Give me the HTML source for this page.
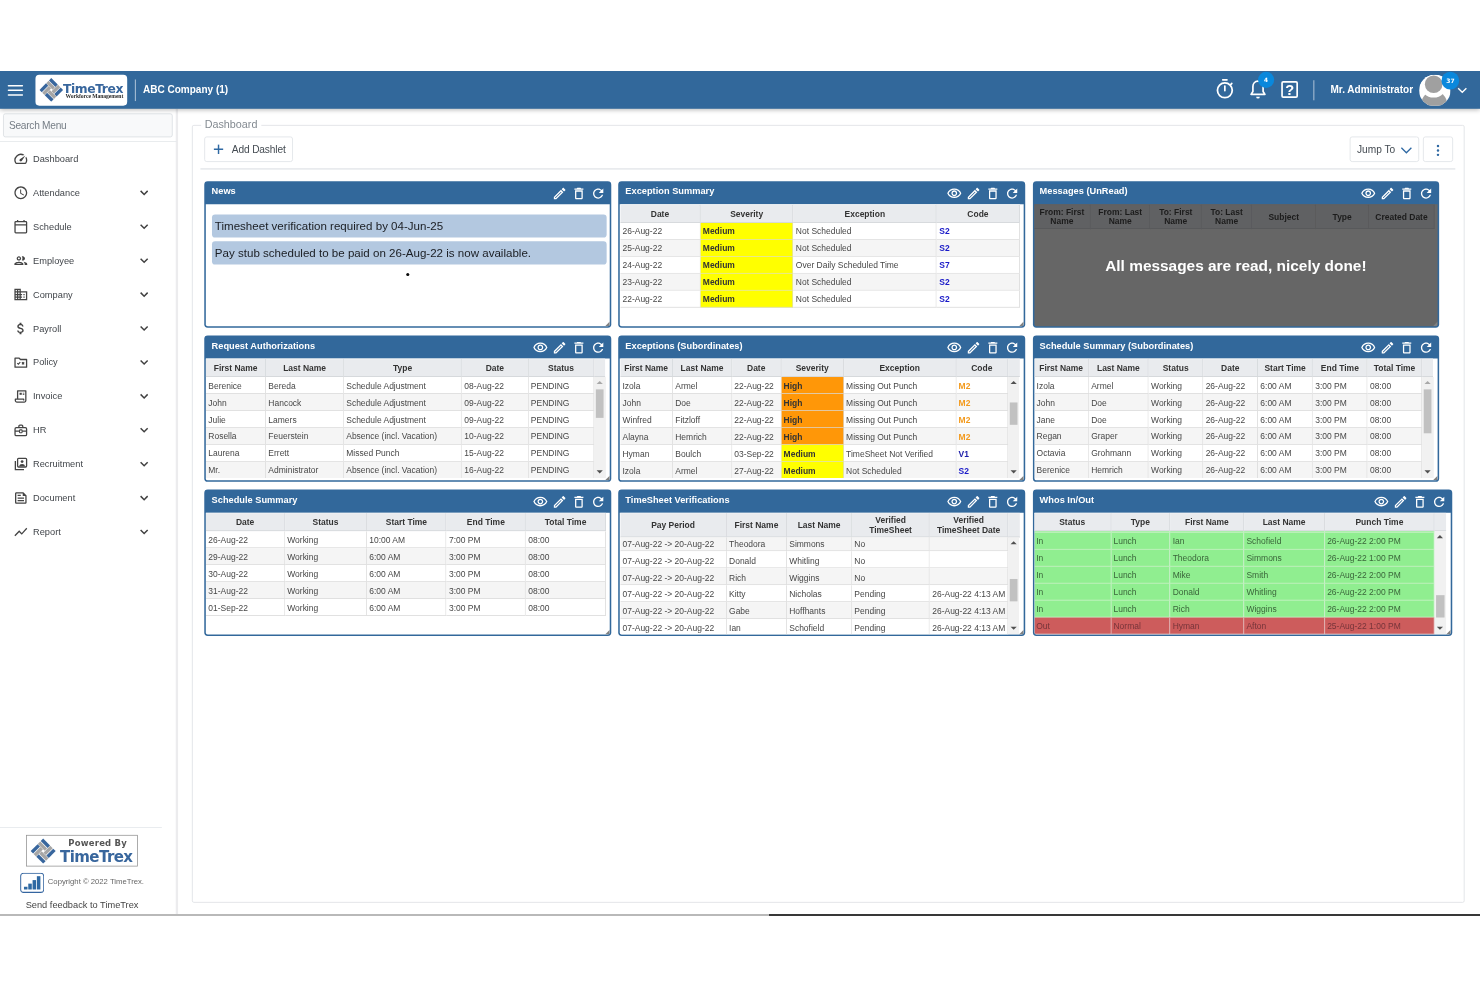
<!DOCTYPE html>
<html lang="en"><head><meta charset="utf-8"><title>TimeTrex Dashboard</title>
<style>
html,body{margin:0;padding:0;background:#fff;}
body{width:1480px;height:987px;overflow:hidden;position:relative;font-family:"Liberation Sans",sans-serif;}
#app{position:absolute;left:0;top:71px;width:1920px;height:1094px;transform:scale(0.7708333);transform-origin:0 0;overflow:hidden;background:#fff;color:#333;font-size:12px;}
#app *{box-sizing:border-box;}
.abs{position:absolute;}
.bline1{position:absolute;left:0;top:913.9px;width:769px;height:2px;background:#b9b9b9;}
.bline2{position:absolute;left:769px;top:913.9px;width:711px;height:2.1px;background:#383838;}
/* header */
#hdr{position:absolute;left:0;top:0;width:1920px;height:49.3px;background:#32689b;box-shadow:0 2px 6px rgba(0,0,0,.28);z-index:5;}
#hdr .bar{position:absolute;left:10px;width:20px;height:2px;background:#fff;border-radius:1px;}
#logo{position:absolute;left:46.2px;top:5.2px;width:119.2px;height:39.6px;background:#fff;border-radius:5px;}
#hdr .vdiv{position:absolute;width:1.8px;background:#d3deea;}
#hdr .co{position:absolute;left:185.5px;top:0;height:49px;line-height:49px;color:#fff;font-weight:bold;font-size:13px;white-space:nowrap;}
#hdr .user{position:absolute;left:1726px;top:0;height:49px;line-height:49px;color:#fff;font-weight:bold;font-size:13px;white-space:nowrap;}
.badge{position:absolute;border-radius:50%;background:#0a88dc;color:#fff;font-weight:bold;text-align:center;font-family:"DejaVu Sans","Liberation Sans",sans-serif;}
/* sidebar */
#side{position:absolute;left:0;top:49px;width:230.6px;height:1045px;background:#fff;border-right:3px solid #ececee;}
#search{position:absolute;left:4px;top:5.5px;width:219.6px;height:31.2px;border:1px solid #d8dce0;border-radius:3px;background:#f8f9fa;color:#757d85;font-size:13.2px;line-height:29px;padding-left:6.6px;letter-spacing:-0.35px;}
.sline{position:absolute;left:0;height:1px;background:#e3e7ea;}
.mi{position:absolute;left:0;width:228px;height:44px;}
.mi svg.ic{position:absolute;left:16.6px;top:11.8px;}
.mi .lb{position:absolute;left:42.8px;top:0px;line-height:44px;font-size:12px;color:#41454a;white-space:nowrap;letter-spacing:0.02px;}
.mi svg.cv{position:absolute;left:177px;top:12px;}
/* main */
#fs{position:absolute;left:248.6px;top:69.6px;width:1651.4px;height:1009.6px;border:1.2px solid #dcdfe2;border-radius:2.5px;}
#lg{position:absolute;left:261px;top:56.6px;padding:0 4.5px;background:#fff;font-size:14px;line-height:24px;color:#838a91;white-space:nowrap;}
.btn{position:absolute;border:1px solid #dde1e5;border-radius:3.2px;background:#fff;color:#444b52;font-size:13.2px;white-space:nowrap;letter-spacing:-0.2px;}
.hr{position:absolute;height:1.5px;background:#e6e9ec;}
/* dashlets */
.dl{position:absolute;border-radius:4.5px;background:#32689b;overflow:hidden;}
.dl .hd{position:absolute;left:0;top:0;right:0;height:30px;}
.dl .tt{position:absolute;left:9.2px;top:0.2px;line-height:27px;color:#fff;font-weight:bold;font-size:12px;white-space:nowrap;}
.dl .hd svg{position:absolute;top:6.4px;}
.dl .bd{position:absolute;left:2.1px;top:30px;right:2.1px;bottom:2.1px;overflow:hidden;background:#fff;border-radius:0 0 2.5px 2.5px;}
.rz{position:absolute;right:0;bottom:0;width:0;height:0;border-style:solid;border-width:0 0 6.5px 6.5px;border-color:transparent transparent #808080 transparent;}
table.g{border-collapse:separate;border-spacing:0;table-layout:fixed;position:absolute;left:0;font-size:11px;}
table.g th{height:24px;background:#e9ebee;border-right:1px solid #d4d7da;border-bottom:1px solid #d0d3d6;border-top:1px solid #f3f4f6;font-weight:bold;color:#333;text-align:center;padding:1.4px 2px 0 2px;line-height:12px;white-space:normal;overflow:hidden;vertical-align:middle;}
table.g td{height:22px;border-right:1px solid #dadada;border-bottom:1px solid #d9d9d9;color:#474747;padding:2.5px 2px 0 3px;white-space:nowrap;overflow:hidden;line-height:18.5px;vertical-align:top;}
table.g tr.a td{background:#f5f5f5;}
table.g tr.b td{background:#fff;}
.sb{position:absolute;width:14.6px;background:#f1f1f1;}
.sb .th{position:absolute;left:1.7px;width:10.6px;background:#c1c1c1;}
.sb .up{position:absolute;left:2.9px;top:5.5px;width:0;height:0;border-style:solid;border-width:0 4px 4px 4px;border-color:transparent transparent #505050 transparent;}
.sb .dn{position:absolute;left:2.9px;bottom:5.5px;width:0;height:0;border-style:solid;border-width:4px 4px 0 4px;border-color:#505050 transparent transparent transparent;}

</style></head>
<body>
<div id="app">
<div id="hdr">
<div class="bar" style="top:18px"></div>
<div class="bar" style="top:24px"></div>
<div class="bar" style="top:30px"></div>
<div id="logo">
<svg class="abs" style="left:4.4px;top:3.9px" width="31" height="31" viewBox="-15.5 -15.5 31 31"><g transform="rotate(45) scale(1.03)">
<rect x="-10.5" y="-10.5" width="11.6" height="4.1" fill="#38669d"/><rect x="-10.5" y="-5.6" width="11.6" height="4.1" fill="#a6a6a6"/>
<rect x="1.5" y="-10.5" width="4.1" height="11.6" fill="#a6a6a6"/><rect x="6.4" y="-10.5" width="4.1" height="11.6" fill="#38669d"/>
<rect x="-1.1" y="1.5" width="11.6" height="4.1" fill="#a6a6a6"/><rect x="-1.1" y="6.4" width="11.6" height="4.1" fill="#38669d"/>
<rect x="-10.5" y="-1.1" width="4.1" height="11.6" fill="#38669d"/><rect x="-5.6" y="-1.1" width="4.1" height="11.6" fill="#a6a6a6"/>
</g></svg>
<div class="abs" style="left:35.4px;top:7.6px;font-family:'DejaVu Sans','Liberation Sans',sans-serif;font-weight:bold;font-size:16px;line-height:20px;color:#38669d;letter-spacing:-0.5px;white-space:nowrap">TimeTrex</div>
<div class="abs" style="left:38.8px;top:22.6px;font-family:'Liberation Serif',serif;font-weight:bold;font-size:7.3px;line-height:9px;color:#2b2b2b;letter-spacing:-0.07px;white-space:nowrap">Workforce Management</div>
</div>
<div class="vdiv" style="left:174.500px;top:10.500px;height:28.500px"></div>
<div class="co">ABC Company (1)</div>
<svg class="abs" style="left:1576px;top:9px" width="26" height="28" viewBox="0 0 26 28">
<circle cx="13" cy="16" r="9.600" fill="none" stroke="#fff" stroke-width="2.300"/><rect x="9.200" y="1.300" width="7.600" height="2.400" rx="1" fill="#fff"/>
<rect x="11.900" y="9.500" width="2.200" height="8" rx="1" fill="#fff"/><rect x="20.200" y="5.800" width="2.300" height="4" rx="1" transform="rotate(45 21.300 7.800)" fill="#fff"/></svg>
<svg class="abs" style="left:1620px;top:11px" width="24" height="26" viewBox="0 0 24 26">
<path d="M12 2.200c-4 0-6.600 3-6.600 7v6.300L3 19.300h18l-2.400-3.800V9.200c0-4-2.600-7-6.600-7z" fill="none" stroke="#fff" stroke-width="2.200" stroke-linejoin="round"/>
<path d="M9.600 22.300a2.400 2.400 0 0 0 4.800 0z" fill="#fff"/></svg>
<div class="badge" style="left:1631.8px;top:0.6px;width:21px;height:21px;line-height:21px;font-size:7.5px">4</div>
<svg class="abs" style="left:1661px;top:12px" width="24" height="24" viewBox="0 0 24 24">
<rect x="2.200" y="2.200" width="19.600" height="19.600" rx="1.500" fill="none" stroke="#fff" stroke-width="2.200"/>
<text x="12.2" y="18.9" text-anchor="middle" font-family="Liberation Sans, sans-serif" font-weight="bold" font-size="19" fill="#fff">?</text></svg>
<div class="vdiv" style="left:1703.500px;top:11.500px;height:26px"></div>
<div class="user">Mr. Administrator</div>
<svg class="abs" style="left:1840.8px;top:4.6px" width="40.8" height="40.8" viewBox="0 0 40.8 40.8">
<defs><clipPath id="avc"><circle cx="20.4" cy="20.4" r="20.4"/></clipPath></defs>
<g clip-path="url(#avc)"><rect width="41" height="41" fill="#fff"/><circle cx="19.6" cy="37.4" r="16.6" fill="#a0a0a0"/>
<circle cx="18.9" cy="12.3" r="17.2" fill="#fff"/><circle cx="18.900" cy="12.300" r="11.400" fill="#a0a0a0"/></g></svg>
<div class="badge" style="left:1870px;top:0.6px;width:23.4px;height:23.4px;line-height:23.4px;font-size:7.8px">37</div>
<svg class="abs" style="left:1888.6px;top:17.1px" width="16" height="16" viewBox="0 0 24 24"><path d="M4 8l8 8 8-8" fill="none" stroke="#fff" stroke-width="2.6"/></svg>
</div>
<div id="side">
<div id="search">Search Menu</div>
<div class="sline" style="top:42px;width:228.500px"></div>
<div class="mi" style="top:43px">
<svg class="ic" viewBox="0 0 24 24" width="20" height="20"><path fill="#444" d="M20.38 8.57l-1.23 1.85a8 8 0 0 1-.22 7.58H5.07A8 8 0 0 1 15.58 6.850l1.85-1.23A10 10 0 0 0 3.35 19a2 2 0 0 0 1.72 1h13.85a2 2 0 0 0 1.74-1 10 10 0 0 0-.27-10.44zm-9.790 6.84a2 2 0 0 0 2.83 0l5.660-8.49-8.49 5.66a2 2 0 0 0 0 2.83z"/></svg>
<span class="lb">Dashboard</span>
</div>
<div class="mi" style="top:87px">
<svg class="ic" viewBox="0 0 24 24" width="20" height="20"><path fill="#444" d="M11.99 2C6.47 2 2 6.48 2 12s4.47 10 9.99 10C17.52 22 22 17.52 22 12S17.52 2 11.99 2zM12 20c-4.42 0-8-3.58-8-8s3.58-8 8-8 8 3.58 8 8-3.58 8-8 8zm.5-13H11v6l5.25 3.15.75-1.23-4.5-2.67z"/></svg>
<span class="lb">Attendance</span>
<svg class="cv" viewBox="0 0 24 24" width="20" height="20"><path d="M6.500 9l5.500 5.500L17.500 9" fill="none" stroke="#404040" stroke-width="2.3"/></svg>
</div>
<div class="mi" style="top:131px">
<svg class="ic" viewBox="0 0 24 24" width="20" height="20"><rect x="3" y="4" width="18" height="17.5" rx="1.2" fill="none" stroke="#444" stroke-width="2"/><path d="M3 9h18" stroke="#444" stroke-width="2"/><path d="M7 1.5v3M17 1.5v3" stroke="#444" stroke-width="2"/></svg>
<span class="lb">Schedule</span>
<svg class="cv" viewBox="0 0 24 24" width="20" height="20"><path d="M6.500 9l5.500 5.500L17.500 9" fill="none" stroke="#404040" stroke-width="2.3"/></svg>
</div>
<div class="mi" style="top:175px">
<svg class="ic" viewBox="0 0 24 24" width="20" height="20"><path fill="#444" d="M9 13.75c-2.34 0-7 1.17-7 3.5V19h14v-1.75c0-2.33-4.66-3.5-7-3.5zM4.34 17c.84-.58 2.87-1.25 4.66-1.25s3.82.67 4.66 1.25H4.34zM9 12c1.93 0 3.5-1.57 3.5-3.5S10.93 5 9 5 5.5 6.57 5.5 8.5 7.07 12 9 12zm0-5c.83 0 1.5.67 1.5 1.5S9.83 10 9 10s-1.5-.67-1.5-1.5S8.17 7 9 7zm7.04 6.810c1.16.84 1.96 1.96 1.96 3.44V19h4v-1.75c0-2.02-3.5-3.170-5.96-3.44zM15 12c1.93 0 3.5-1.57 3.5-3.5S16.93 5 15 5c-.54 0-1.04.13-1.5.35.63.89 1 1.98 1 3.15s-.37 2.26-1 3.15c.46.22.96.35 1.5.35z"/></svg>
<span class="lb">Employee</span>
<svg class="cv" viewBox="0 0 24 24" width="20" height="20"><path d="M6.500 9l5.500 5.500L17.500 9" fill="none" stroke="#404040" stroke-width="2.3"/></svg>
</div>
<div class="mi" style="top:219px">
<svg class="ic" viewBox="0 0 24 24" width="20" height="20"><path fill="#444" d="M12 7V3H2v18h20V7H12zM6 19H4v-2h2v2zm0-4H4v-2h2v2zm0-4H4V9h2v2zm0-4H4V5h2v2zm4 12H8v-2h2v2zm0-4H8v-2h2v2zm0-4H8V9h2v2zm0-4H8V5h2v2zm10 12h-8v-2h2v-2h-2v-2h2v-2h-2V9h8v10zm-2-8h-2v2h2v-2zm0 4h-2v2h2v-2z"/></svg>
<span class="lb">Company</span>
<svg class="cv" viewBox="0 0 24 24" width="20" height="20"><path d="M6.500 9l5.500 5.500L17.500 9" fill="none" stroke="#404040" stroke-width="2.3"/></svg>
</div>
<div class="mi" style="top:263px">
<svg class="ic" viewBox="0 0 24 24" width="20" height="20"><path fill="#444" d="M11.8 10.9c-2.27-.59-3-1.2-3-2.15 0-1.09 1.01-1.85 2.7-1.85 1.78 0 2.44.85 2.5 2.1h2.21c-.07-1.72-1.12-3.3-3.21-3.81V3h-3v2.160c-1.94.42-3.5 1.68-3.5 3.61 0 2.31 1.91 3.46 4.7 4.13 2.5.6 3 1.48 3 2.41 0 .69-.49 1.79-2.7 1.79-2.06 0-2.87-.92-2.98-2.1h-2.2c.12 2.19 1.76 3.42 3.68 3.83V21h3v-2.15c1.95-.37 3.5-1.5 3.5-3.55 0-2.84-2.43-3.81-4.7-4.4z"/></svg>
<span class="lb">Payroll</span>
<svg class="cv" viewBox="0 0 24 24" width="20" height="20"><path d="M6.500 9l5.500 5.500L17.500 9" fill="none" stroke="#404040" stroke-width="2.3"/></svg>
</div>
<div class="mi" style="top:307px">
<svg class="ic" viewBox="0 0 24 24" width="20" height="20"><path d="M3 5.500h6.500l2 2H21V19.500H3z" fill="none" stroke="#444" stroke-width="2" stroke-linejoin="round"/><path d="M6.500 13.200l1.700 1.700 3-3.200M13.800 11.800l3.400 3.400M17.200 11.800l-3.400 3.400" fill="none" stroke="#444" stroke-width="1.700"/></svg>
<span class="lb">Policy</span>
<svg class="cv" viewBox="0 0 24 24" width="20" height="20"><path d="M6.500 9l5.500 5.500L17.500 9" fill="none" stroke="#404040" stroke-width="2.3"/></svg>
</div>
<div class="mi" style="top:351px">
<svg class="ic" viewBox="0 0 24 24" width="20" height="20"><path d="M7 16V3.500h12.800V18.500a2.500 2.500 0 0 1-2.500 2.500H6a2.500 2.500 0 0 1-2.500-2.500V16.500H16.500V18.500" fill="none" stroke="#444" stroke-width="2" stroke-linejoin="round"/><rect x="10" y="6.500" width="3.500" height="3.200" fill="#444"/><rect x="15" y="6.500" width="2.500" height="1.200" fill="#444"/><rect x="15" y="8.400" width="2.500" height="1.300" fill="#444"/></svg>
<span class="lb">Invoice</span>
<svg class="cv" viewBox="0 0 24 24" width="20" height="20"><path d="M6.500 9l5.500 5.500L17.500 9" fill="none" stroke="#404040" stroke-width="2.3"/></svg>
</div>
<div class="mi" style="top:395px">
<svg class="ic" viewBox="0 0 24 24" width="20" height="20"><rect x="3" y="8" width="18" height="12.500" rx="2" fill="none" stroke="#444" stroke-width="2"/><path d="M9 8V5.500a1.500 1.500 0 0 1 1.500-1.500h3A1.500 1.500 0 0 1 15 5.500V8" fill="none" stroke="#444" stroke-width="2"/><path d="M3 13.500h18" stroke="#444" stroke-width="1.800"/><rect x="10" y="11.500" width="4" height="4.500" rx="1" fill="#fff" stroke="#444" stroke-width="1.600"/></svg>
<span class="lb">HR</span>
<svg class="cv" viewBox="0 0 24 24" width="20" height="20"><path d="M6.500 9l5.500 5.500L17.500 9" fill="none" stroke="#404040" stroke-width="2.3"/></svg>
</div>
<div class="mi" style="top:439px">
<svg class="ic" viewBox="0 0 24 24" width="20" height="20"><rect x="7" y="3" width="14" height="13.500" rx="1.500" fill="none" stroke="#444" stroke-width="2"/><path d="M3.500 7v13.500H17" fill="none" stroke="#444" stroke-width="2"/><circle cx="14" cy="8" r="2.200" fill="#444"/><path d="M9.500 15.500c0-2.500 2-3.800 4.500-3.800s4.500 1.300 4.500 3.800z" fill="#444"/></svg>
<span class="lb">Recruitment</span>
<svg class="cv" viewBox="0 0 24 24" width="20" height="20"><path d="M6.500 9l5.500 5.500L17.500 9" fill="none" stroke="#404040" stroke-width="2.3"/></svg>
</div>
<div class="mi" style="top:483px">
<svg class="ic" viewBox="0 0 24 24" width="20" height="20"><path fill="#444" d="M16 3H5c-1.100 0-2 .9-2 2v14c0 1.100.9 2 2 2h14c1.100 0 2-.9 2-2V8l-5-5zm3 16H5V5h10v4h4v10zM7 17h10v-2H7v2zm5-10H7v2h5V7zm-5 6h10v-2H7v2z"/></svg>
<span class="lb">Document</span>
<svg class="cv" viewBox="0 0 24 24" width="20" height="20"><path d="M6.500 9l5.500 5.500L17.500 9" fill="none" stroke="#404040" stroke-width="2.3"/></svg>
</div>
<div class="mi" style="top:527px">
<svg class="ic" viewBox="0 0 24 24" width="20" height="20"><path fill="#444" d="M3.5 18.49l6-6.01 4 4L22 6.92l-1.41-1.41-7.09 7.97-4-4L2 16.99z"/></svg>
<span class="lb">Report</span>
<svg class="cv" viewBox="0 0 24 24" width="20" height="20"><path d="M6.500 9l5.500 5.500L17.500 9" fill="none" stroke="#404040" stroke-width="2.3"/></svg>
</div>
<div class="sline" style="top:931.5px;width:210px"></div>
<div class="abs" style="left:34px;top:942.3px;width:145px;height:40.3px;border:1.2px solid #939393;background:#fff">
<svg class="abs" style="left:4.1px;top:3.2px" width="34" height="34" viewBox="-17 -17 34 34"><g transform="scale(1.06)"><g transform="rotate(45) scale(1.03)">
<rect x="-10.5" y="-10.5" width="11.6" height="4.1" fill="#38669d"/><rect x="-10.5" y="-5.6" width="11.6" height="4.1" fill="#a6a6a6"/>
<rect x="1.5" y="-10.5" width="4.1" height="11.6" fill="#a6a6a6"/><rect x="6.4" y="-10.5" width="4.1" height="11.6" fill="#38669d"/>
<rect x="-1.1" y="1.5" width="11.6" height="4.1" fill="#a6a6a6"/><rect x="-1.1" y="6.4" width="11.6" height="4.1" fill="#38669d"/>
<rect x="-10.5" y="-1.1" width="4.1" height="11.6" fill="#38669d"/><rect x="-5.6" y="-1.1" width="4.1" height="11.6" fill="#a6a6a6"/>
</g></g></svg>
<div class="abs" style="left:53.7px;top:3.7px;font-family:'DejaVu Sans',sans-serif;font-weight:bold;font-size:11px;line-height:14px;color:#555;white-space:nowrap;letter-spacing:0.25px">Powered By</div>
<div class="abs" style="left:42.8px;top:15.6px;font-family:'DejaVu Sans',sans-serif;font-weight:bold;font-size:19.5px;line-height:24px;color:#38669d;white-space:nowrap;letter-spacing:-0.76px">TimeTrex</div>
</div>
<svg class="abs" style="left:25.6px;top:991.4px" width="31.5" height="26.4" viewBox="0 0 31 26">
<rect x="0.800" y="0.800" width="29.400" height="24.400" rx="3.500" fill="#fff" stroke="#3465a0" stroke-width="1.300"/>
<rect x="5" y="18" width="4.500" height="3.500" fill="#2f69a3"/><rect x="10.500" y="14" width="4.500" height="7.500" fill="#2f69a3"/>
<rect x="16" y="9.500" width="4.500" height="12" fill="#2f69a3"/><rect x="21.500" y="4.500" width="4.500" height="17" fill="#2f69a3"/></svg>
<div class="abs" style="left:62px;top:996px;font-size:10px;line-height:14px;color:#666;white-space:nowrap">Copyright © 2022 TimeTrex.</div>
<div class="abs" style="left:33.3px;top:1024.5px;font-size:12px;line-height:16px;color:#444;white-space:nowrap">Send feedback to TimeTrex</div>
</div>
<div id="fs"></div><div id="lg">Dashboard</div>
<div class="btn" style="left:265px;top:85px;width:115px;height:32.500px;line-height:30px"><svg class="abs" style="left:11.2px;top:9.1px" width="13" height="13" viewBox="0 0 13 13"><path d="M6.5 0.3v12.4M0.300 6.5h12.400" stroke="#2f69a3" stroke-width="1.9" fill="none"/></svg><span class="abs" style="left:34.8px;top:0.5px">Add Dashlet</span></div>
<div class="btn" style="left:1751px;top:85px;width:90px;height:32.500px;line-height:30px"><span class="abs" style="left:8.4px;top:0.5px;letter-spacing:0px">Jump To</span><svg class="abs" style="left:64.2px;top:8.5px" width="17" height="15" viewBox="0 0 17 15"><path d="M2 4.500l6.500 6.500L15 4.500" stroke="#2f69a3" stroke-width="1.700" fill="none"/></svg></div>
<div class="btn" style="left:1846px;top:85px;width:39px;height:32.500px"><svg class="abs" style="left:15.500px;top:8.500px" width="5" height="16" viewBox="0 0 5 16"><circle cx="2.500" cy="2.200" r="1.600" fill="#2f69a3"/><circle cx="2.500" cy="8" r="1.600" fill="#2f69a3"/><circle cx="2.500" cy="13.800" r="1.600" fill="#2f69a3"/></svg></div>
<div class="hr" style="left:260px;top:126px;width:1628px"></div>
<div class="dl" style="left:265.3px;top:142.6px;width:527.6px;height:190.2px">
<div class="hd">
<span class="tt">News</span>
<svg viewBox="0 0 24 24" width="20" height="20" style="right:6.699999999999999px"><path fill="#fff" d="M17.65 6.35C16.2 4.9 14.21 4 12 4c-4.42 0-7.99 3.58-7.99 8s3.57 8 7.99 8c3.73 0 6.84-2.55 7.73-6h-2.08c-.82 2.33-3.04 4-5.65 4-3.31 0-6-2.69-6-6s2.69-6 6-6c1.66 0 3.14.69 4.22 1.78L13 11h7V4l-2.35 2.35z"/></svg>
<svg viewBox="0 0 24 24" width="20" height="20" style="right:31.700000000000003px"><path fill="#fff" d="M6 19c0 1.1.9 2 2 2h8c1.1 0 2-.9 2-2V7H6v12zM8 9h8v10H8V9zm7.5-5l-1-1h-5l-1 1H5v2h14V4z"/></svg>
<svg viewBox="0 0 24 24" width="20" height="20" style="right:56.7px"><path fill="#fff" d="M14.06 9.02l.92.92L5.92 19H5v-.92l9.06-9.06M17.66 3c-.25 0-.51.1-.7.29l-1.83 1.830 3.75 3.75 1.83-1.83c.39-.39.39-1.020 0-1.41l-2.34-2.340c-.2-.2-.45-.29-.71-.29zm-3.6 3.19L3 17.250V21h3.75L17.810 9.940l-3.75-3.750z"/></svg>
</div>
<div class="bd" style=""><div class="abs" style="left:8px;top:13.3px;width:511.5px;height:30.2px;border-radius:4px;background:#b3c8e0"></div><div class="abs" style="left:8px;top:48.3px;width:511.5px;height:30.2px;border-radius:4px;background:#b3c8e0"></div><div class="abs" style="left:11.3px;top:13.3px;line-height:29.4px;font-size:15px;color:#1a1d22;white-space:nowrap">Timesheet verification required by 04-Jun-25</div><div class="abs" style="left:11.3px;top:48.3px;line-height:29.4px;font-size:15px;color:#1a1d22;white-space:nowrap">Pay stub scheduled to be paid on 26-Aug-22 is now available.</div><div class="abs" style="left:259.7px;top:89.2px;width:4px;height:4px;border-radius:50%;background:#0a0a0a"></div><div class="rz"></div></div>
</div>
<div class="dl" style="left:802.1px;top:142.6px;width:527.6px;height:190.2px">
<div class="hd">
<span class="tt">Exception Summary</span>
<svg viewBox="0 0 24 24" width="20" height="20" style="right:6.699999999999999px"><path fill="#fff" d="M17.65 6.35C16.2 4.9 14.21 4 12 4c-4.42 0-7.99 3.58-7.99 8s3.57 8 7.99 8c3.73 0 6.84-2.55 7.73-6h-2.08c-.82 2.33-3.04 4-5.65 4-3.31 0-6-2.69-6-6s2.69-6 6-6c1.66 0 3.14.69 4.22 1.78L13 11h7V4l-2.35 2.35z"/></svg>
<svg viewBox="0 0 24 24" width="20" height="20" style="right:31.700000000000003px"><path fill="#fff" d="M6 19c0 1.1.9 2 2 2h8c1.1 0 2-.9 2-2V7H6v12zM8 9h8v10H8V9zm7.5-5l-1-1h-5l-1 1H5v2h14V4z"/></svg>
<svg viewBox="0 0 24 24" width="20" height="20" style="right:56.7px"><path fill="#fff" d="M14.06 9.02l.92.92L5.92 19H5v-.92l9.06-9.06M17.66 3c-.25 0-.51.1-.7.29l-1.83 1.830 3.75 3.75 1.83-1.83c.39-.39.39-1.020 0-1.41l-2.34-2.340c-.2-.2-.45-.29-.71-.29zm-3.6 3.19L3 17.250V21h3.75L17.810 9.940l-3.75-3.750z"/></svg>
<svg viewBox="0 0 24 24" width="20" height="20" style="right:81.7px"><path fill="#fff" d="M12 6c3.79 0 7.17 2.13 8.82 5.5C19.17 14.87 15.79 17 12 17s-7.17-2.13-8.82-5.5C4.83 8.13 8.21 6 12 6m0-2C7 4 2.73 7.11 1 11.5 2.73 15.89 7 19 12 19s9.27-3.11 11-7.5C21.27 7.11 17 4 12 4zm0 5c1.38 0 2.5 1.12 2.5 2.5S13.38 14 12 14s-2.5-1.12-2.5-2.5S10.620 9 12 9m0-2c-2.48 0-4.5 2.02-4.5 4.5S9.52 16 12 16s4.5-2.02 4.5-4.5S14.48 7 12 7z"/></svg>
</div>
<div class="bd" style=""><table class="g" style="top:0px;left:0.38378378378376965px;width:518.3351351351351px"><colgroup>
<col style="width:104.24px">
<col style="width:120.65px">
<col style="width:186.03px">
<col style="width:107.42px">
</colgroup><thead><tr>
<th style="height:24px;">Date</th>
<th style="height:24px;">Severity</th>
<th style="height:24px;">Exception</th>
<th style="height:24px;">Code</th>
</tr></thead></table><div class="abs" style="left:0;top:24px;width:100%;height:134.1px;overflow:hidden"><table class="g" style="top:0px;left:0.38378378378376965px;width:518.3351351351351px"><colgroup>
<col style="width:104.24px">
<col style="width:120.65px">
<col style="width:186.03px">
<col style="width:107.42px">
</colgroup><tbody>
<tr class="b">
<td>26-Aug-22</td>
<td style="background:#ffff00;color:#333;font-weight:bold;">Medium</td>
<td>Not Scheduled</td>
<td style="color:#1a1ac8;font-weight:bold;">S2</td>
</tr>
<tr class="a">
<td>25-Aug-22</td>
<td style="background:#ffff00;color:#333;font-weight:bold;">Medium</td>
<td>Not Scheduled</td>
<td style="color:#1a1ac8;font-weight:bold;">S2</td>
</tr>
<tr class="b">
<td>24-Aug-22</td>
<td style="background:#ffff00;color:#333;font-weight:bold;">Medium</td>
<td>Over Daily Scheduled Time</td>
<td style="color:#1a1ac8;font-weight:bold;">S7</td>
</tr>
<tr class="a">
<td>23-Aug-22</td>
<td style="background:#ffff00;color:#333;font-weight:bold;">Medium</td>
<td>Not Scheduled</td>
<td style="color:#1a1ac8;font-weight:bold;">S2</td>
</tr>
<tr class="b">
<td>22-Aug-22</td>
<td style="background:#ffff00;color:#333;font-weight:bold;">Medium</td>
<td>Not Scheduled</td>
<td style="color:#1a1ac8;font-weight:bold;">S2</td>
</tr>
</tbody></table></div><div class="rz"></div></div>
</div>
<div class="dl" style="left:1339.5px;top:142.6px;width:527.6px;height:190.2px">
<div class="hd">
<span class="tt">Messages (UnRead)</span>
<svg viewBox="0 0 24 24" width="20" height="20" style="right:6.699999999999999px"><path fill="#fff" d="M17.65 6.35C16.2 4.9 14.21 4 12 4c-4.42 0-7.99 3.58-7.99 8s3.57 8 7.99 8c3.73 0 6.84-2.55 7.73-6h-2.08c-.82 2.33-3.04 4-5.65 4-3.31 0-6-2.69-6-6s2.69-6 6-6c1.66 0 3.14.69 4.22 1.78L13 11h7V4l-2.35 2.35z"/></svg>
<svg viewBox="0 0 24 24" width="20" height="20" style="right:31.700000000000003px"><path fill="#fff" d="M6 19c0 1.1.9 2 2 2h8c1.1 0 2-.9 2-2V7H6v12zM8 9h8v10H8V9zm7.5-5l-1-1h-5l-1 1H5v2h14V4z"/></svg>
<svg viewBox="0 0 24 24" width="20" height="20" style="right:56.7px"><path fill="#fff" d="M14.06 9.02l.92.92L5.92 19H5v-.92l9.06-9.06M17.66 3c-.25 0-.51.1-.7.29l-1.83 1.830 3.75 3.75 1.83-1.83c.39-.39.39-1.020 0-1.41l-2.34-2.340c-.2-.2-.45-.29-.71-.29zm-3.6 3.19L3 17.250V21h3.75L17.810 9.940l-3.75-3.750z"/></svg>
<svg viewBox="0 0 24 24" width="20" height="20" style="right:81.7px"><path fill="#fff" d="M12 6c3.79 0 7.17 2.13 8.82 5.5C19.17 14.87 15.79 17 12 17s-7.17-2.13-8.82-5.5C4.83 8.13 8.21 6 12 6m0-2C7 4 2.73 7.11 1 11.5 2.73 15.89 7 19 12 19s9.27-3.11 11-7.5C21.27 7.11 17 4 12 4zm0 5c1.38 0 2.5 1.12 2.5 2.5S13.38 14 12 14s-2.5-1.12-2.5-2.5S10.620 9 12 9m0-2c-2.48 0-4.5 2.02-4.5 4.5S9.52 16 12 16s4.5-2.02 4.5-4.5S14.48 7 12 7z"/></svg>
</div>
<div class="bd" style="background:#666666;"><table class="g" style="top:0px;left:-0.5837837837837014px;width:520.2810810810811px"><colgroup>
<col style="width:74.14px">
<col style="width:77.32px">
<col style="width:66.81px">
<col style="width:65.12px">
<col style="width:83.03px">
<col style="width:68.63px">
<col style="width:85.23px">
</colgroup><thead><tr>
<th style="height:32px;background:#606163;color:#1c1c1c;border-right-color:#58595b;border-bottom-color:#565759;border-top-color:#5f6062;">From: First Name</th>
<th style="height:32px;background:#606163;color:#1c1c1c;border-right-color:#58595b;border-bottom-color:#565759;border-top-color:#5f6062;">From: Last Name</th>
<th style="height:32px;background:#606163;color:#1c1c1c;border-right-color:#58595b;border-bottom-color:#565759;border-top-color:#5f6062;">To: First Name</th>
<th style="height:32px;background:#606163;color:#1c1c1c;border-right-color:#58595b;border-bottom-color:#565759;border-top-color:#5f6062;">To: Last Name</th>
<th style="height:32px;background:#606163;color:#1c1c1c;border-right-color:#58595b;border-bottom-color:#565759;border-top-color:#5f6062;">Subject</th>
<th style="height:32px;background:#606163;color:#1c1c1c;border-right-color:#58595b;border-bottom-color:#565759;border-top-color:#5f6062;">Type</th>
<th style="height:32px;background:#606163;color:#1c1c1c;border-right-color:#58595b;border-bottom-color:#565759;border-top-color:#5f6062;">Created Date</th>
</tr></thead></table><div class="abs" style="left:0;top:32px;width:100%;height:126.1px;overflow:hidden"><table class="g" style="top:0px;left:-0.5837837837837014px;width:520.2810810810811px"><colgroup>
<col style="width:74.14px">
<col style="width:77.32px">
<col style="width:66.81px">
<col style="width:65.12px">
<col style="width:83.03px">
<col style="width:68.63px">
<col style="width:85.23px">
</colgroup><tbody>
</tbody></table></div><div class="abs" style="left:0;top:65px;width:100%;text-align:center;font-size:20px;line-height:28px;font-weight:bold;color:#fff;white-space:nowrap">All messages are read, nicely done!</div><div class="rz"></div></div>
</div>
<div class="dl" style="left:265.3px;top:342.6px;width:527.6px;height:190.2px">
<div class="hd">
<span class="tt">Request Authorizations</span>
<svg viewBox="0 0 24 24" width="20" height="20" style="right:6.699999999999999px"><path fill="#fff" d="M17.65 6.35C16.2 4.9 14.21 4 12 4c-4.42 0-7.99 3.58-7.99 8s3.57 8 7.99 8c3.73 0 6.84-2.55 7.73-6h-2.08c-.82 2.33-3.04 4-5.65 4-3.31 0-6-2.69-6-6s2.69-6 6-6c1.66 0 3.14.69 4.22 1.78L13 11h7V4l-2.35 2.35z"/></svg>
<svg viewBox="0 0 24 24" width="20" height="20" style="right:31.700000000000003px"><path fill="#fff" d="M6 19c0 1.1.9 2 2 2h8c1.1 0 2-.9 2-2V7H6v12zM8 9h8v10H8V9zm7.5-5l-1-1h-5l-1 1H5v2h14V4z"/></svg>
<svg viewBox="0 0 24 24" width="20" height="20" style="right:56.7px"><path fill="#fff" d="M14.06 9.02l.92.92L5.92 19H5v-.92l9.06-9.06M17.66 3c-.25 0-.51.1-.7.29l-1.83 1.830 3.75 3.75 1.83-1.83c.39-.39.39-1.020 0-1.41l-2.34-2.340c-.2-.2-.45-.29-.71-.29zm-3.6 3.19L3 17.250V21h3.75L17.810 9.940l-3.75-3.750z"/></svg>
<svg viewBox="0 0 24 24" width="20" height="20" style="right:81.7px"><path fill="#fff" d="M12 6c3.79 0 7.17 2.13 8.82 5.5C19.17 14.87 15.79 17 12 17s-7.17-2.13-8.82-5.5C4.83 8.13 8.21 6 12 6m0-2C7 4 2.73 7.11 1 11.5 2.73 15.89 7 19 12 19s9.27-3.11 11-7.5C21.27 7.11 17 4 12 4zm0 5c1.38 0 2.5 1.12 2.5 2.5S13.38 14 12 14s-2.5-1.12-2.5-2.5S10.620 9 12 9m0-2c-2.48 0-4.5 2.02-4.5 4.5S9.52 16 12 16s4.5-2.02 4.5-4.5S14.48 7 12 7z"/></svg>
</div>
<div class="bd" style=""><table class="g" style="top:0px;left:-0.15675675675680623px;width:517.7513513513513px"><colgroup>
<col style="width:77.90px">
<col style="width:101.06px">
<col style="width:153.21px">
<col style="width:86.27px">
<col style="width:85.23px">
<col style="width:14.08px">
</colgroup><thead><tr>
<th style="height:24px;">First Name</th>
<th style="height:24px;">Last Name</th>
<th style="height:24px;">Type</th>
<th style="height:24px;">Date</th>
<th style="height:24px;">Status</th>
<th style="height:24px;border-right:none;"></th>
</tr></thead></table><div class="abs" style="left:0;top:24px;width:100%;height:131px;overflow:hidden"><table class="g" style="top:0px;left:-0.15675675675680623px;width:503.6756756756756px"><colgroup>
<col style="width:77.90px">
<col style="width:101.06px">
<col style="width:153.21px">
<col style="width:86.27px">
<col style="width:85.23px">
</colgroup><tbody>
<tr class="b">
<td>Berenice</td>
<td>Bereda</td>
<td>Schedule Adjustment</td>
<td>08-Aug-22</td>
<td>PENDING</td>
</tr>
<tr class="a">
<td>John</td>
<td>Hancock</td>
<td>Schedule Adjustment</td>
<td>09-Aug-22</td>
<td>PENDING</td>
</tr>
<tr class="b">
<td>Julie</td>
<td>Lamers</td>
<td>Schedule Adjustment</td>
<td>09-Aug-22</td>
<td>PENDING</td>
</tr>
<tr class="a">
<td>Rosella</td>
<td>Feuerstein</td>
<td>Absence (incl. Vacation)</td>
<td>10-Aug-22</td>
<td>PENDING</td>
</tr>
<tr class="b">
<td>Laurena</td>
<td>Errett</td>
<td>Missed Punch</td>
<td>15-Aug-22</td>
<td>PENDING</td>
</tr>
<tr class="a">
<td>Mr.</td>
<td>Administrator</td>
<td>Absence (incl. Vacation)</td>
<td>16-Aug-22</td>
<td>PENDING</td>
</tr>
</tbody></table><div class="sb" style="left:503.5189189189188px;top:0px;height:131px"><div class="up" style="border-bottom-color:#a8a8a8"></div><div class="th" style="top:15.940540540540496px;height:37.621621621621614px"></div><div class="dn"></div></div></div><div class="rz"></div></div>
</div>
<div class="dl" style="left:802.1px;top:342.6px;width:527.6px;height:190.2px">
<div class="hd">
<span class="tt">Exceptions (Subordinates)</span>
<svg viewBox="0 0 24 24" width="20" height="20" style="right:6.699999999999999px"><path fill="#fff" d="M17.65 6.35C16.2 4.9 14.21 4 12 4c-4.42 0-7.99 3.58-7.99 8s3.57 8 7.99 8c3.73 0 6.84-2.55 7.73-6h-2.08c-.82 2.33-3.04 4-5.65 4-3.31 0-6-2.69-6-6s2.69-6 6-6c1.66 0 3.14.69 4.22 1.78L13 11h7V4l-2.35 2.35z"/></svg>
<svg viewBox="0 0 24 24" width="20" height="20" style="right:31.700000000000003px"><path fill="#fff" d="M6 19c0 1.1.9 2 2 2h8c1.1 0 2-.9 2-2V7H6v12zM8 9h8v10H8V9zm7.5-5l-1-1h-5l-1 1H5v2h14V4z"/></svg>
<svg viewBox="0 0 24 24" width="20" height="20" style="right:56.7px"><path fill="#fff" d="M14.06 9.02l.92.92L5.92 19H5v-.92l9.06-9.06M17.66 3c-.25 0-.51.1-.7.29l-1.83 1.830 3.75 3.75 1.83-1.83c.39-.39.39-1.020 0-1.41l-2.34-2.340c-.2-.2-.45-.29-.71-.29zm-3.6 3.19L3 17.250V21h3.75L17.810 9.940l-3.75-3.750z"/></svg>
<svg viewBox="0 0 24 24" width="20" height="20" style="right:81.7px"><path fill="#fff" d="M12 6c3.79 0 7.17 2.13 8.82 5.5C19.17 14.87 15.79 17 12 17s-7.17-2.13-8.82-5.5C4.83 8.13 8.21 6 12 6m0-2C7 4 2.73 7.11 1 11.5 2.73 15.89 7 19 12 19s9.27-3.11 11-7.5C21.27 7.11 17 4 12 4zm0 5c1.38 0 2.5 1.12 2.5 2.5S13.38 14 12 14s-2.5-1.12-2.5-2.5S10.620 9 12 9m0-2c-2.48 0-4.5 2.02-4.5 4.5S9.52 16 12 16s4.5-2.02 4.5-4.5S14.48 7 12 7z"/></svg>
</div>
<div class="bd" style=""><table class="g" style="top:0px;left:0.38378378378376965px;width:518.0108108108108px"><colgroup>
<col style="width:68.43px">
<col style="width:76.54px">
<col style="width:64.09px">
<col style="width:81.08px">
<col style="width:145.95px">
<col style="width:67.20px">
<col style="width:14.72px">
</colgroup><thead><tr>
<th style="height:24px;">First Name</th>
<th style="height:24px;">Last Name</th>
<th style="height:24px;">Date</th>
<th style="height:24px;">Severity</th>
<th style="height:24px;">Exception</th>
<th style="height:24px;">Code</th>
<th style="height:24px;border-right:none;"></th>
</tr></thead></table><div class="abs" style="left:0;top:24px;width:100%;height:131px;overflow:hidden"><table class="g" style="top:0.7px;left:0.38378378378376965px;width:503.2864864864865px"><colgroup>
<col style="width:68.43px">
<col style="width:76.54px">
<col style="width:64.09px">
<col style="width:81.08px">
<col style="width:145.95px">
<col style="width:67.20px">
</colgroup><tbody>
<tr class="b">
<td>Izola</td>
<td>Armel</td>
<td>22-Aug-22</td>
<td style="background:#ff9708;color:#333;font-weight:bold;">High</td>
<td>Missing Out Punch</td>
<td style="color:#f39a1d;font-weight:bold;">M2</td>
</tr>
<tr class="a">
<td>John</td>
<td>Doe</td>
<td>22-Aug-22</td>
<td style="background:#ff9708;color:#333;font-weight:bold;">High</td>
<td>Missing Out Punch</td>
<td style="color:#f39a1d;font-weight:bold;">M2</td>
</tr>
<tr class="b">
<td>Winfred</td>
<td>Fitzloff</td>
<td>22-Aug-22</td>
<td style="background:#ff9708;color:#333;font-weight:bold;">High</td>
<td>Missing Out Punch</td>
<td style="color:#f39a1d;font-weight:bold;">M2</td>
</tr>
<tr class="a">
<td>Alayna</td>
<td>Hemrich</td>
<td>22-Aug-22</td>
<td style="background:#ff9708;color:#333;font-weight:bold;">High</td>
<td>Missing Out Punch</td>
<td style="color:#f39a1d;font-weight:bold;">M2</td>
</tr>
<tr class="b">
<td>Hyman</td>
<td>Boulch</td>
<td>03-Sep-22</td>
<td style="background:#ffff00;color:#333;font-weight:bold;">Medium</td>
<td>TimeSheet Not Verified</td>
<td style="color:#1c1ca8;font-weight:bold;">V1</td>
</tr>
<tr class="a">
<td>Izola</td>
<td>Armel</td>
<td>27-Aug-22</td>
<td style="background:#ffff00;color:#333;font-weight:bold;">Medium</td>
<td>Not Scheduled</td>
<td style="color:#1a1ac8;font-weight:bold;">S2</td>
</tr>
</tbody></table><div class="sb" style="left:503.6702702702703px;top:0px;height:131px"><div class="up"></div><div class="th" style="top:33.713513513513476px;height:28.281081081081084px"></div><div class="dn"></div></div></div><div class="rz"></div></div>
</div>
<div class="dl" style="left:1339.5px;top:342.6px;width:527.6px;height:190.2px">
<div class="hd">
<span class="tt">Schedule Summary (Subordinates)</span>
<svg viewBox="0 0 24 24" width="20" height="20" style="right:6.699999999999999px"><path fill="#fff" d="M17.65 6.35C16.2 4.9 14.21 4 12 4c-4.42 0-7.99 3.58-7.99 8s3.57 8 7.99 8c3.73 0 6.84-2.55 7.73-6h-2.08c-.82 2.33-3.04 4-5.65 4-3.31 0-6-2.69-6-6s2.69-6 6-6c1.66 0 3.14.69 4.22 1.78L13 11h7V4l-2.35 2.35z"/></svg>
<svg viewBox="0 0 24 24" width="20" height="20" style="right:31.700000000000003px"><path fill="#fff" d="M6 19c0 1.1.9 2 2 2h8c1.1 0 2-.9 2-2V7H6v12zM8 9h8v10H8V9zm7.5-5l-1-1h-5l-1 1H5v2h14V4z"/></svg>
<svg viewBox="0 0 24 24" width="20" height="20" style="right:56.7px"><path fill="#fff" d="M14.06 9.02l.92.92L5.92 19H5v-.92l9.06-9.06M17.66 3c-.25 0-.51.1-.7.29l-1.83 1.830 3.75 3.75 1.83-1.83c.39-.39.39-1.020 0-1.41l-2.34-2.340c-.2-.2-.45-.29-.71-.29zm-3.6 3.19L3 17.250V21h3.75L17.810 9.940l-3.75-3.750z"/></svg>
<svg viewBox="0 0 24 24" width="20" height="20" style="right:81.7px"><path fill="#fff" d="M12 6c3.79 0 7.17 2.13 8.82 5.5C19.17 14.87 15.79 17 12 17s-7.17-2.13-8.82-5.5C4.83 8.13 8.21 6 12 6m0-2C7 4 2.73 7.11 1 11.5 2.73 15.89 7 19 12 19s9.27-3.11 11-7.5C21.27 7.11 17 4 12 4zm0 5c1.38 0 2.5 1.12 2.5 2.5S13.38 14 12 14s-2.5-1.12-2.5-2.5S10.620 9 12 9m0-2c-2.48 0-4.5 2.02-4.5 4.5S9.52 16 12 16s4.5-2.02 4.5-4.5S14.48 7 12 7z"/></svg>
</div>
<div class="bd" style=""><table class="g" style="top:0px;left:0.19459459459449135px;width:517.2324324324325px"><colgroup>
<col style="width:70.77px">
<col style="width:77.71px">
<col style="width:70.83px">
<col style="width:70.96px">
<col style="width:71.22px">
<col style="width:70.96px">
<col style="width:70.83px">
<col style="width:13.95px">
</colgroup><thead><tr>
<th style="height:24px;">First Name</th>
<th style="height:24px;">Last Name</th>
<th style="height:24px;">Status</th>
<th style="height:24px;">Date</th>
<th style="height:24px;">Start Time</th>
<th style="height:24px;">End Time</th>
<th style="height:24px;">Total Time</th>
<th style="height:24px;border-right:none;"></th>
</tr></thead></table><div class="abs" style="left:0;top:24px;width:100%;height:131px;overflow:hidden"><table class="g" style="top:0px;left:0.19459459459449135px;width:503.28648648648664px"><colgroup>
<col style="width:70.77px">
<col style="width:77.71px">
<col style="width:70.83px">
<col style="width:70.96px">
<col style="width:71.22px">
<col style="width:70.96px">
<col style="width:70.83px">
</colgroup><tbody>
<tr class="b">
<td>Izola</td>
<td>Armel</td>
<td>Working</td>
<td>26-Aug-22</td>
<td>6:00 AM</td>
<td>3:00 PM</td>
<td>08:00</td>
</tr>
<tr class="a">
<td>John</td>
<td>Doe</td>
<td>Working</td>
<td>26-Aug-22</td>
<td>6:00 AM</td>
<td>3:00 PM</td>
<td>08:00</td>
</tr>
<tr class="b">
<td>Jane</td>
<td>Doe</td>
<td>Working</td>
<td>26-Aug-22</td>
<td>6:00 AM</td>
<td>3:00 PM</td>
<td>08:00</td>
</tr>
<tr class="a">
<td>Regan</td>
<td>Graper</td>
<td>Working</td>
<td>26-Aug-22</td>
<td>6:00 AM</td>
<td>3:00 PM</td>
<td>08:00</td>
</tr>
<tr class="b">
<td>Octavia</td>
<td>Grohmann</td>
<td>Working</td>
<td>26-Aug-22</td>
<td>6:00 AM</td>
<td>3:00 PM</td>
<td>08:00</td>
</tr>
<tr class="a">
<td>Berenice</td>
<td>Hemrich</td>
<td>Working</td>
<td>26-Aug-22</td>
<td>6:00 AM</td>
<td>3:00 PM</td>
<td>08:00</td>
</tr>
</tbody></table><div class="sb" style="left:503.48108108108113px;top:0px;height:131px"><div class="up" style="border-bottom-color:#a8a8a8"></div><div class="th" style="top:15.940540540540496px;height:57.34054054054053px"></div><div class="dn"></div></div></div><div class="rz"></div></div>
</div>
<div class="dl" style="left:265.3px;top:542.6px;width:527.6px;height:190.2px">
<div class="hd">
<span class="tt">Schedule Summary</span>
<svg viewBox="0 0 24 24" width="20" height="20" style="right:6.699999999999999px"><path fill="#fff" d="M17.65 6.35C16.2 4.9 14.21 4 12 4c-4.42 0-7.99 3.58-7.99 8s3.57 8 7.99 8c3.73 0 6.84-2.55 7.73-6h-2.08c-.82 2.33-3.04 4-5.65 4-3.31 0-6-2.69-6-6s2.69-6 6-6c1.66 0 3.14.69 4.22 1.78L13 11h7V4l-2.35 2.35z"/></svg>
<svg viewBox="0 0 24 24" width="20" height="20" style="right:31.700000000000003px"><path fill="#fff" d="M6 19c0 1.1.9 2 2 2h8c1.1 0 2-.9 2-2V7H6v12zM8 9h8v10H8V9zm7.5-5l-1-1h-5l-1 1H5v2h14V4z"/></svg>
<svg viewBox="0 0 24 24" width="20" height="20" style="right:56.7px"><path fill="#fff" d="M14.06 9.02l.92.92L5.92 19H5v-.92l9.06-9.06M17.66 3c-.25 0-.51.1-.7.29l-1.83 1.830 3.75 3.75 1.83-1.83c.39-.39.39-1.020 0-1.41l-2.34-2.340c-.2-.2-.45-.29-.71-.29zm-3.6 3.19L3 17.250V21h3.75L17.810 9.940l-3.75-3.750z"/></svg>
<svg viewBox="0 0 24 24" width="20" height="20" style="right:81.7px"><path fill="#fff" d="M12 6c3.79 0 7.17 2.13 8.82 5.5C19.17 14.87 15.79 17 12 17s-7.17-2.13-8.82-5.5C4.83 8.13 8.21 6 12 6m0-2C7 4 2.73 7.11 1 11.5 2.73 15.89 7 19 12 19s9.27-3.11 11-7.5C21.27 7.11 17 4 12 4zm0 5c1.38 0 2.5 1.12 2.5 2.5S13.38 14 12 14s-2.5-1.12-2.5-2.5S10.620 9 12 9m0-2c-2.48 0-4.5 2.02-4.5 4.5S9.52 16 12 16s4.5-2.02 4.5-4.5S14.48 7 12 7z"/></svg>
</div>
<div class="bd" style=""><table class="g" style="top:0px;left:-0.15675675675680623px;width:518.8540540540541px"><colgroup>
<col style="width:102.42px">
<col style="width:106.38px">
<col style="width:103.39px">
<col style="width:102.88px">
<col style="width:103.78px">
</colgroup><thead><tr>
<th style="height:24px;">Date</th>
<th style="height:24px;">Status</th>
<th style="height:24px;">Start Time</th>
<th style="height:24px;">End Time</th>
<th style="height:24px;">Total Time</th>
</tr></thead></table><div class="abs" style="left:0;top:24px;width:100%;height:134.1px;overflow:hidden"><table class="g" style="top:0px;left:-0.15675675675680623px;width:518.8540540540541px"><colgroup>
<col style="width:102.42px">
<col style="width:106.38px">
<col style="width:103.39px">
<col style="width:102.88px">
<col style="width:103.78px">
</colgroup><tbody>
<tr class="b">
<td>26-Aug-22</td>
<td>Working</td>
<td>10:00 AM</td>
<td>7:00 PM</td>
<td>08:00</td>
</tr>
<tr class="a">
<td>29-Aug-22</td>
<td>Working</td>
<td>6:00 AM</td>
<td>3:00 PM</td>
<td>08:00</td>
</tr>
<tr class="b">
<td>30-Aug-22</td>
<td>Working</td>
<td>6:00 AM</td>
<td>3:00 PM</td>
<td>08:00</td>
</tr>
<tr class="a">
<td>31-Aug-22</td>
<td>Working</td>
<td>6:00 AM</td>
<td>3:00 PM</td>
<td>08:00</td>
</tr>
<tr class="b">
<td>01-Sep-22</td>
<td>Working</td>
<td>6:00 AM</td>
<td>3:00 PM</td>
<td>08:00</td>
</tr>
</tbody></table></div><div class="rz"></div></div>
</div>
<div class="dl" style="left:802.1px;top:542.6px;width:527.6px;height:190.2px">
<div class="hd">
<span class="tt">TimeSheet Verifications</span>
<svg viewBox="0 0 24 24" width="20" height="20" style="right:6.699999999999999px"><path fill="#fff" d="M17.65 6.35C16.2 4.9 14.21 4 12 4c-4.42 0-7.99 3.58-7.99 8s3.57 8 7.99 8c3.73 0 6.84-2.55 7.73-6h-2.08c-.82 2.33-3.04 4-5.65 4-3.31 0-6-2.69-6-6s2.69-6 6-6c1.66 0 3.14.69 4.22 1.78L13 11h7V4l-2.35 2.35z"/></svg>
<svg viewBox="0 0 24 24" width="20" height="20" style="right:31.700000000000003px"><path fill="#fff" d="M6 19c0 1.1.9 2 2 2h8c1.1 0 2-.9 2-2V7H6v12zM8 9h8v10H8V9zm7.5-5l-1-1h-5l-1 1H5v2h14V4z"/></svg>
<svg viewBox="0 0 24 24" width="20" height="20" style="right:56.7px"><path fill="#fff" d="M14.06 9.02l.92.92L5.92 19H5v-.92l9.06-9.06M17.66 3c-.25 0-.51.1-.7.29l-1.83 1.830 3.75 3.75 1.83-1.83c.39-.39.39-1.020 0-1.41l-2.34-2.340c-.2-.2-.45-.29-.71-.29zm-3.6 3.19L3 17.250V21h3.75L17.810 9.940l-3.75-3.750z"/></svg>
<svg viewBox="0 0 24 24" width="20" height="20" style="right:81.7px"><path fill="#fff" d="M12 6c3.79 0 7.17 2.13 8.82 5.5C19.17 14.87 15.79 17 12 17s-7.17-2.13-8.82-5.5C4.83 8.13 8.21 6 12 6m0-2C7 4 2.73 7.11 1 11.5 2.73 15.89 7 19 12 19s9.27-3.11 11-7.5C21.27 7.11 17 4 12 4zm0 5c1.38 0 2.5 1.12 2.5 2.5S13.38 14 12 14s-2.5-1.12-2.5-2.5S10.620 9 12 9m0-2c-2.48 0-4.5 2.02-4.5 4.5S9.52 16 12 16s4.5-2.02 4.5-4.5S14.48 7 12 7z"/></svg>
</div>
<div class="bd" style=""><table class="g" style="top:0px;left:0.38378378378376965px;width:518.0108108108108px"><colgroup>
<col style="width:138.23px">
<col style="width:78.10px">
<col style="width:84.45px">
<col style="width:101.06px">
<col style="width:101.45px">
<col style="width:14.72px">
</colgroup><thead><tr>
<th style="height:32px;">Pay Period</th>
<th style="height:32px;">First Name</th>
<th style="height:32px;">Last Name</th>
<th style="height:32px;">Verified TimeSheet</th>
<th style="height:32px;">Verified TimeSheet Date</th>
<th style="height:32px;border-right:none;"></th>
</tr></thead></table><div class="abs" style="left:0;top:32px;width:100%;height:126.1px;overflow:hidden"><table class="g" style="top:-3.6px;left:0.38378378378376965px;width:503.2864864864865px"><colgroup>
<col style="width:138.23px">
<col style="width:78.10px">
<col style="width:84.45px">
<col style="width:101.06px">
<col style="width:101.45px">
</colgroup><tbody>
<tr class="a">
<td>07-Aug-22 -&gt; 20-Aug-22</td>
<td>Theodora</td>
<td>Simmons</td>
<td>No</td>
<td></td>
</tr>
<tr class="b">
<td>07-Aug-22 -&gt; 20-Aug-22</td>
<td>Donald</td>
<td>Whitling</td>
<td>No</td>
<td></td>
</tr>
<tr class="a">
<td>07-Aug-22 -&gt; 20-Aug-22</td>
<td>Rich</td>
<td>Wiggins</td>
<td>No</td>
<td></td>
</tr>
<tr class="b">
<td>07-Aug-22 -&gt; 20-Aug-22</td>
<td>Kitty</td>
<td>Nicholas</td>
<td>Pending</td>
<td>26-Aug-22 4:13 AM</td>
</tr>
<tr class="a">
<td>07-Aug-22 -&gt; 20-Aug-22</td>
<td>Gabe</td>
<td>Hoffhants</td>
<td>Pending</td>
<td>26-Aug-22 4:13 AM</td>
</tr>
<tr class="b">
<td>07-Aug-22 -&gt; 20-Aug-22</td>
<td>Ian</td>
<td>Schofield</td>
<td>Pending</td>
<td>26-Aug-22 4:13 AM</td>
</tr>
</tbody></table><div class="sb" style="left:503.6702702702703px;top:0px;height:126.1px"><div class="up"></div><div class="th" style="top:54.81621621621605px;height:29.059459459459617px"></div><div class="dn"></div></div></div><div class="rz"></div></div>
</div>
<div class="dl" style="left:1339.5px;top:542.6px;width:544.4px;height:190.2px">
<div class="hd">
<span class="tt">Whos In/Out</span>
<svg viewBox="0 0 24 24" width="20" height="20" style="right:6.699999999999999px"><path fill="#fff" d="M17.65 6.35C16.2 4.9 14.21 4 12 4c-4.42 0-7.99 3.58-7.99 8s3.57 8 7.99 8c3.73 0 6.84-2.55 7.73-6h-2.08c-.82 2.33-3.04 4-5.65 4-3.31 0-6-2.69-6-6s2.69-6 6-6c1.66 0 3.14.69 4.22 1.78L13 11h7V4l-2.35 2.35z"/></svg>
<svg viewBox="0 0 24 24" width="20" height="20" style="right:31.700000000000003px"><path fill="#fff" d="M6 19c0 1.1.9 2 2 2h8c1.1 0 2-.9 2-2V7H6v12zM8 9h8v10H8V9zm7.5-5l-1-1h-5l-1 1H5v2h14V4z"/></svg>
<svg viewBox="0 0 24 24" width="20" height="20" style="right:56.7px"><path fill="#fff" d="M14.06 9.02l.92.92L5.92 19H5v-.92l9.06-9.06M17.66 3c-.25 0-.51.1-.7.29l-1.83 1.830 3.75 3.75 1.83-1.83c.39-.39.39-1.020 0-1.41l-2.34-2.340c-.2-.2-.45-.29-.71-.29zm-3.6 3.19L3 17.250V21h3.75L17.810 9.940l-3.75-3.750z"/></svg>
<svg viewBox="0 0 24 24" width="20" height="20" style="right:81.7px"><path fill="#fff" d="M12 6c3.79 0 7.17 2.13 8.82 5.5C19.17 14.87 15.79 17 12 17s-7.17-2.13-8.82-5.5C4.83 8.13 8.21 6 12 6m0-2C7 4 2.73 7.11 1 11.5 2.73 15.89 7 19 12 19s9.27-3.11 11-7.5C21.27 7.11 17 4 12 4zm0 5c1.38 0 2.5 1.12 2.5 2.5S13.38 14 12 14s-2.5-1.12-2.5-2.5S10.620 9 12 9m0-2c-2.48 0-4.5 2.02-4.5 4.5S9.52 16 12 16s4.5-2.02 4.5-4.5S14.48 7 12 7z"/></svg>
</div>
<div class="bd" style=""><table class="g" style="top:0px;left:-0.32432432432415226px;width:534.3567567567566px"><colgroup>
<col style="width:100.22px">
<col style="width:76.80px">
<col style="width:95.74px">
<col style="width:104.69px">
<col style="width:142.57px">
<col style="width:14.34px">
</colgroup><thead><tr>
<th style="height:24px;">Status</th>
<th style="height:24px;">Type</th>
<th style="height:24px;">First Name</th>
<th style="height:24px;">Last Name</th>
<th style="height:24px;">Punch Time</th>
<th style="height:24px;border-right:none;"></th>
</tr></thead></table><div class="abs" style="left:0;top:24px;width:100%;height:134.1px;overflow:hidden"><table class="g" style="top:-19.6px;left:-0.32432432432415226px;width:520.0216216216215px"><colgroup>
<col style="width:100.22px">
<col style="width:76.80px">
<col style="width:95.74px">
<col style="width:104.69px">
<col style="width:142.57px">
</colgroup><tbody>
<tr class="b">
<td style="padding-top:1.9px;background:#90ee90;color:#3a653a;border-right-color:#dcefdc;border-bottom-color:#d4efd0;">In</td>
<td style="padding-top:1.9px;background:#90ee90;color:#3a653a;border-right-color:#dcefdc;border-bottom-color:#d4efd0;">Lunch</td>
<td style="padding-top:1.9px;background:#90ee90;color:#3a653a;border-right-color:#dcefdc;border-bottom-color:#d4efd0;">Gabe</td>
<td style="padding-top:1.9px;background:#90ee90;color:#3a653a;border-right-color:#dcefdc;border-bottom-color:#d4efd0;">Hoffhants</td>
<td style="padding-top:1.9px;background:#90ee90;color:#3a653a;border-right-color:#dcefdc;border-bottom-color:#d4efd0;">26-Aug-22 2:00 PM</td>
</tr>
<tr class="a">
<td style="padding-top:1.9px;background:#90ee90;color:#3a653a;border-right-color:#dcefdc;border-bottom-color:#d4efd0;">In</td>
<td style="padding-top:1.9px;background:#90ee90;color:#3a653a;border-right-color:#dcefdc;border-bottom-color:#d4efd0;">Lunch</td>
<td style="padding-top:1.9px;background:#90ee90;color:#3a653a;border-right-color:#dcefdc;border-bottom-color:#d4efd0;">Ian</td>
<td style="padding-top:1.9px;background:#90ee90;color:#3a653a;border-right-color:#dcefdc;border-bottom-color:#d4efd0;">Schofield</td>
<td style="padding-top:1.9px;background:#90ee90;color:#3a653a;border-right-color:#dcefdc;border-bottom-color:#d4efd0;">26-Aug-22 2:00 PM</td>
</tr>
<tr class="b">
<td style="padding-top:1.9px;background:#90ee90;color:#3a653a;border-right-color:#dcefdc;border-bottom-color:#d4efd0;">In</td>
<td style="padding-top:1.9px;background:#90ee90;color:#3a653a;border-right-color:#dcefdc;border-bottom-color:#d4efd0;">Lunch</td>
<td style="padding-top:1.9px;background:#90ee90;color:#3a653a;border-right-color:#dcefdc;border-bottom-color:#d4efd0;">Theodora</td>
<td style="padding-top:1.9px;background:#90ee90;color:#3a653a;border-right-color:#dcefdc;border-bottom-color:#d4efd0;">Simmons</td>
<td style="padding-top:1.9px;background:#90ee90;color:#3a653a;border-right-color:#dcefdc;border-bottom-color:#d4efd0;">26-Aug-22 1:00 PM</td>
</tr>
<tr class="a">
<td style="padding-top:1.9px;background:#90ee90;color:#3a653a;border-right-color:#dcefdc;border-bottom-color:#d4efd0;">In</td>
<td style="padding-top:1.9px;background:#90ee90;color:#3a653a;border-right-color:#dcefdc;border-bottom-color:#d4efd0;">Lunch</td>
<td style="padding-top:1.9px;background:#90ee90;color:#3a653a;border-right-color:#dcefdc;border-bottom-color:#d4efd0;">Mike</td>
<td style="padding-top:1.9px;background:#90ee90;color:#3a653a;border-right-color:#dcefdc;border-bottom-color:#d4efd0;">Smith</td>
<td style="padding-top:1.9px;background:#90ee90;color:#3a653a;border-right-color:#dcefdc;border-bottom-color:#d4efd0;">26-Aug-22 2:00 PM</td>
</tr>
<tr class="b">
<td style="padding-top:1.9px;background:#90ee90;color:#3a653a;border-right-color:#dcefdc;border-bottom-color:#d4efd0;">In</td>
<td style="padding-top:1.9px;background:#90ee90;color:#3a653a;border-right-color:#dcefdc;border-bottom-color:#d4efd0;">Lunch</td>
<td style="padding-top:1.9px;background:#90ee90;color:#3a653a;border-right-color:#dcefdc;border-bottom-color:#d4efd0;">Donald</td>
<td style="padding-top:1.9px;background:#90ee90;color:#3a653a;border-right-color:#dcefdc;border-bottom-color:#d4efd0;">Whitling</td>
<td style="padding-top:1.9px;background:#90ee90;color:#3a653a;border-right-color:#dcefdc;border-bottom-color:#d4efd0;">26-Aug-22 2:00 PM</td>
</tr>
<tr class="a">
<td style="padding-top:1.9px;background:#90ee90;color:#3a653a;border-right-color:#dcefdc;border-bottom-color:#d4efd0;">In</td>
<td style="padding-top:1.9px;background:#90ee90;color:#3a653a;border-right-color:#dcefdc;border-bottom-color:#d4efd0;">Lunch</td>
<td style="padding-top:1.9px;background:#90ee90;color:#3a653a;border-right-color:#dcefdc;border-bottom-color:#d4efd0;">Rich</td>
<td style="padding-top:1.9px;background:#90ee90;color:#3a653a;border-right-color:#dcefdc;border-bottom-color:#d4efd0;">Wiggins</td>
<td style="padding-top:1.9px;background:#90ee90;color:#3a653a;border-right-color:#dcefdc;border-bottom-color:#d4efd0;">26-Aug-22 2:00 PM</td>
</tr>
<tr class="b">
<td style="padding-top:1.9px;background:#cd5c5c;color:#76343a;border-right-color:#e6cfcf;border-bottom-color:#e6cfcf;">Out</td>
<td style="padding-top:1.9px;background:#cd5c5c;color:#76343a;border-right-color:#e6cfcf;border-bottom-color:#e6cfcf;">Normal</td>
<td style="padding-top:1.9px;background:#cd5c5c;color:#76343a;border-right-color:#e6cfcf;border-bottom-color:#e6cfcf;">Hyman</td>
<td style="padding-top:1.9px;background:#cd5c5c;color:#76343a;border-right-color:#e6cfcf;border-bottom-color:#e6cfcf;">Afton</td>
<td style="padding-top:1.9px;background:#cd5c5c;color:#76343a;border-right-color:#e6cfcf;border-bottom-color:#e6cfcf;">25-Aug-22 1:00 PM</td>
</tr>
</tbody></table><div class="sb" style="left:519.6972972972974px;top:0px;height:134.1px"><div class="up"></div><div class="th" style="top:83.83243243243237px;height:28.92972972972973px"></div><div class="dn"></div></div></div><div class="rz"></div></div>
</div>
</div>
<div class="bline1"></div><div class="bline2"></div>
</body></html>
